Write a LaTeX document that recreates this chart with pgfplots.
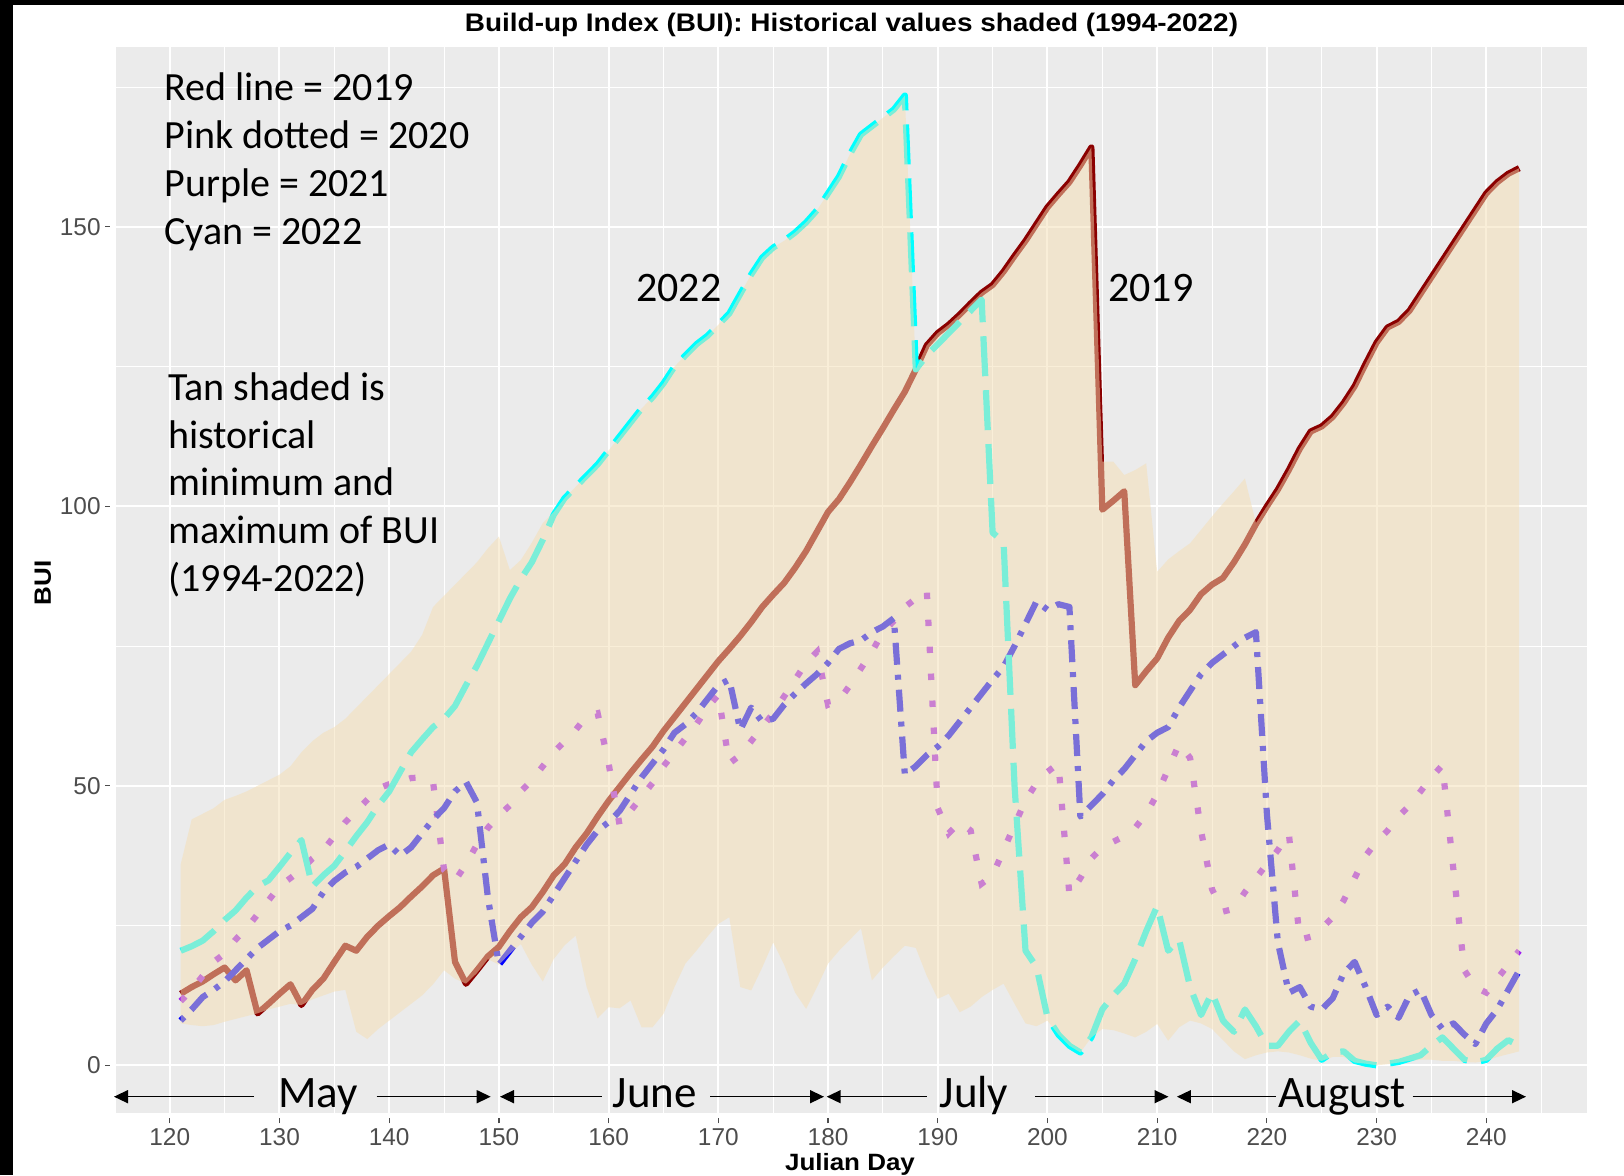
\documentclass[border=0pt]{standalone}
\usepackage{fontspec}
\setmainfont{Liberation Sans}
\newfontfamily\calfont{Carlito}
\newfontfamily\widefont{Liberation Sans}[FakeStretch=1.1]
\usepackage{pgfplots}
\usepackage{pgfplotstable}
\usepgfplotslibrary{fillbetween}
\usetikzlibrary{arrows.meta}
\pgfplotsset{compat=1.18}

\definecolor{panel}{RGB}{235,235,235}
\definecolor{tickgray}{RGB}{77,77,77}
\definecolor{ribbon}{RGB}{245,222,179}
\definecolor{c2019}{RGB}{139,0,0}
\definecolor{c2020}{RGB}{160,32,240}
\definecolor{c2021}{RGB}{0,0,255}
\definecolor{c2022}{RGB}{0,255,255}

% day, historical min/max, 2019, 2020, 2021, 2022
\pgfplotstableread{
day lo hi r p b c
121 7.5 36 12.8 11.5 8 20.5
122 7.2 44 14 13.5 10 21.3
123 7 45 15 16 12.2 22.3
124 7.2 46 16.3 18.5 13.5 24
125 7.8 47.5 17.5 20 15 26
126 8.3 48.2 15.2 22.5 17 27.7
127 8.8 49 17 24.5 19 30
128 9.3 50 9.3 27 21 32
129 10 51 11 29.5 22.5 33.1
130 10.5 52 12.8 32 24 35.5
131 11 53.5 14.5 33.5 25 38
132 10.8 56 10.8 35 26.5 40.3
133 11.8 58 13.5 37 28 32
134 12.5 59.5 15.5 38.5 31 34
135 13.2 60.5 18.5 41 33 35.7
136 13.5 62 21.4 43.5 34.5 38.3
137 6 64 20.5 45.5 35.5 41
138 4.7 66 23 47.5 37 43.5
139 6.5 68 25 49.5 38.5 46.5
140 8 70 26.7 50.3 39.5 49
141 9.5 72 28.3 50.8 37.5 52.5
142 11 74 30.2 51.4 39 56
143 12.5 77 32 51.5 41.5 58.3
144 14.5 82 34 50.7 44 60.5
145 17 84 35.2 35 46 62
146 15.5 86 18.5 33 49 64.3
147 14.6 88 14.6 36 50.7 68
148 16.5 90 17 39.5 47 71.5
149 19 92.5 19.5 42.5 30 75.5
150 18 94.6 21.2 44.7 18 79.5
151 20 88.6 24 46.5 20.5 83.5
152 21.7 90.4 26.5 49 23 87
153 18 93.5 28.3 51 25.5 90
154 15 97 31 53.5 27.5 94
155 19 99 34 56 30.5 98.5
156 21.5 101.5 36 58 33.5 101.5
157 23.2 103.5 39 60 36.5 103.5
158 14 105.5 41.5 62.5 39.5 105.5
159 8.4 107.5 44.5 63 42 107.5
160 10.4 110 47.3 54 43.5 110
161 10.2 112.5 49.8 43 45.5 112.5
162 11.6 115 52.3 45.5 48.5 115
163 6.8 117.5 54.7 48 51.5 117.5
164 6.8 119.5 57 50.5 54 119.5
165 9.2 122 59.8 53.5 56.5 122
166 14 125 62.3 56 59.5 125
167 18.2 127 64.8 58.5 61 127
168 20.5 129 67.3 61 63 129
169 23 130.5 69.8 64 65.5 130.5
170 25.3 132.5 72.3 66.3 68 132.5
171 26.5 134.5 74.5 54 69 134.5
172 14 138 76.8 55.5 60 138
173 13.4 141.5 79.3 58 64 141.5
174 17.5 144.5 82 60.5 61.5 144.5
175 22 146.3 84.2 63 62 146.3
176 18 147.5 86.3 66 64.5 147.5
177 13 149 89 69 66.5 149
178 10.1 150.8 92 72 68.3 150.8
179 14 153 95.5 74 70 153
180 18.2 156 99 64.5 72 156
181 20.5 159 101.3 65.3 74.5 159
182 22.5 163 104.3 68 75.5 163
183 24.5 166.5 107.5 71 76 166.5
184 15.2 168 110.8 74 77.5 168
185 17.5 169.5 114 77.5 78.5 169.5
186 19.5 171 117.3 79.5 80 171
187 21.4 173.5 120.5 82 52 173.5
188 21 124.5 124.5 83.5 53.5 124.5
189 16 128.8 128.8 85 55.5 127
190 11.9 131 131 46 57 129
191 12.8 132.5 132.5 41.5 59 131
192 9.5 134.3 134.3 43.5 61.5 133
193 10.5 136.3 136.3 42 64 135
194 12.2 138.2 138.2 32.5 66.5 137
195 13.5 139.6 139.6 34 69 95.3
196 14.6 142 142 38.5 71.3 93.6
197 11 144.8 144.8 43 75 50
198 7.5 147.5 147.5 47.4 79 20.5
199 7 150.5 150.5 50.5 83 17.6
200 8 153.5 153.5 52.5 81.5 8.6
201 5.5 155.8 155.8 54 82.5 5.5
202 3.5 158 158 30.5 82 3.5
203 2.3 161 161 33.5 44.5 2.3
204 5 164.2 164.2 37 46.5 5
205 6.5 108 99.4 39 48.5 10
206 6.3 108 101 40 51 12.5
207 5.7 105.6 102.7 41 53 14.6
208 5 106.5 68 42.5 55.5 19
209 6 107.7 70.5 45 58 24
210 7.4 88.3 72.8 48.5 59.5 28.5
211 4.4 90.5 76.5 53 60.5 20.5
212 6.8 92 79.5 57.5 64 22.5
213 8 93.4 81.5 55 67 14
214 7.5 95.8 84.3 42 70 9
215 6.5 98.2 86 31.5 72 13
216 4.5 100.5 87.2 27.5 73.5 8
217 2.5 102.7 90 28 75 6
218 1.1 105 93.2 31 76.5 10
219 1.8 97 96.8 33.5 77.5 7
220 2.3 100 100 36 45 3.5
221 2.5 103 103 38.5 22 3.5
222 2.3 106.5 106.5 41.5 13 6
223 1.8 110.3 110.3 22.5 14 8
224 1.2 113.4 113.4 23 10.5 4
225 0.8 114.3 114.3 24.5 10 1
226 1.5 116 116 26.5 12 2.3
227 1.5 118.5 118.5 29.5 16.5 2.5
228 0.5 121.5 121.5 33.5 18.5 0.8
229 0.3 125.5 125.5 37.5 14 0.3
230 0 129.3 129.3 40 9 0
231 0.2 132 132 42 10.5 0.3
232 0.5 133 133 44.5 8.5 0.6
233 0.8 135 135 46.5 12.5 1.2
234 1 138 138 49 13.5 1.8
235 1 141 141 51.5 9 3.5
236 0.8 144 144 53.7 6.5 5
237 0.8 147 147 35 7.5 3
238 0.6 150 150 17 5.5 1
239 0.5 153 153 14 3.8 0.5
240 0.8 156 156 13 7.5 1
241 1.5 158 158 15.5 10 3
242 2 159.5 159.5 18 13.5 4.5
243 2.5 160.5 160.5 20.5 17 3.5
}\bui

\tikzset{fill between/on layer=axis foreground}

\begin{document}
\begin{tikzpicture}
\begin{axis}[
  at={(58pt,30.8pt)}, anchor=south west,
  scale only axis, width=735.35pt, height=533.4pt,
  xmin=115.1, xmax=249.15, ymin=-8.6, ymax=182.25,
  set layers,
  no markers,
  axis background/.style={fill=panel},
  axis line style={draw=none},
  xtick={120,130,...,240}, ytick={0,50,100,150},
  minor xtick={115,125,...,245}, minor ytick={25,75,125,175},
  grid=both,
  major grid style={white, line width=1pt},
  minor grid style={white, line width=0.5pt},
  tick pos=left, tick align=inside,
  major tick length=2.5pt, minor tick length=0pt,
  xtick style={draw=tickgray, line width=0.6pt, yshift=-5pt},
  ytick style={draw=tickgray, line width=0.6pt, xshift=-5.5pt},
  tick label style={font=\fontsize{12.2}{14}\selectfont, text=tickgray, inner sep=0pt},
  xticklabel style={anchor=center, yshift=-11.65pt},
  yticklabel style={anchor=east, xshift=-7.5pt},
  /pgf/number format/assume math mode=true,
]
\addplot[c2019, line width=3.1pt, line join=round] table[x=day, y=r] {\bui};
\addplot[c2020, line width=3.1pt, dash pattern=on 3.2pt off 10.3pt] table[x=day, y=p] {\bui};
\addplot[c2021, line width=3.1pt, line join=round, dash pattern=on 2.5pt off 5pt on 11pt off 5pt] table[x=day, y=b] {\bui};
\addplot[c2022, line width=3.1pt, line join=round, dash pattern=on 20pt off 7pt] table[x=day, y=c] {\bui};

\addplot[draw=none, name path=hi] table[x=day, y=hi] {\bui};
\addplot[draw=none, name path=lo] table[x=day, y=lo] {\bui};
\addplot[fill=ribbon, fill opacity=0.5] fill between[of=hi and lo];
\end{axis}

\fill[black] (0,0) rectangle (6.5pt,587.5pt);
\fill[black] (0,585pt) rectangle (812pt,587.5pt);

% titles
\node[anchor=base, inner sep=0pt] at (425.75pt,571.9pt)
  {\widefont\bfseries\fontsize{12.7}{14}\selectfont Build-up Index (BUI): Historical values shaded (1994-2022)};
\node[anchor=base, inner sep=0pt] at (425pt,2.4pt)
  {\widefont\bfseries\fontsize{11.8}{14}\selectfont Julian Day};
\node[rotate=90, inner sep=0pt] at (21.4pt,296pt)
  {\widefont\bfseries\fontsize{11.8}{14}\selectfont BUI};

% notes
\begin{scope}[every node/.style={anchor=base west, inner sep=0pt, font=\calfont\fontsize{20}{24}\selectfont}]
\node at (82pt,537.25pt) {Red line = 2019};
\node at (82pt,513.25pt) {Pink dotted = 2020};
\node at (82pt,489.25pt) {Purple = 2021};
\node at (82pt,465.25pt) {Cyan = 2022};
\node at (84pt,387.1pt) {Tan shaded is};
\node at (84pt,363.25pt) {historical};
\node at (84pt,339.5pt) {minimum and};
\node at (84pt,315.65pt) {maximum of BUI};
\node at (84pt,291.8pt) {(1994-2022)};
\node[font=\calfont\fontsize{21}{24}\selectfont] at (318pt,436.65pt) {2022};
\node[font=\calfont\fontsize{21}{24}\selectfont] at (554pt,436.65pt) {2019};
\end{scope}

% months
\begin{scope}[every node/.style={anchor=base, inner sep=0pt, font=\calfont\fontsize{22.5}{26}\selectfont}]
\node at (159.15pt,33.85pt) {May};
\node at (327.5pt,33.85pt) {June};
\node at (487pt,33.85pt) {July};
\node at (671pt,33.85pt) {August};
\end{scope}
\begin{scope}[line width=0.75pt, -{Triangle[length=7pt,width=6.5pt]}]
\draw (127pt,39.15pt) -- (57pt,39.15pt);
\draw (188.35pt,39.15pt) -- (245.35pt,39.15pt);
\draw (300.85pt,39.15pt) -- (250pt,39.15pt);
\draw (355pt,39.15pt) -- (412pt,39.15pt);
\draw (463.35pt,39.15pt) -- (413.35pt,39.15pt);
\draw (517.5pt,39.15pt) -- (584.25pt,39.15pt);
\draw (637.75pt,39.15pt) -- (588.45pt,39.15pt);
\draw (706.25pt,39.15pt) -- (763pt,39.15pt);
\end{scope}
\pgfresetboundingbox
\path[use as bounding box] (0,0) rectangle (812pt,587.5pt);
\end{tikzpicture}
\end{document}
